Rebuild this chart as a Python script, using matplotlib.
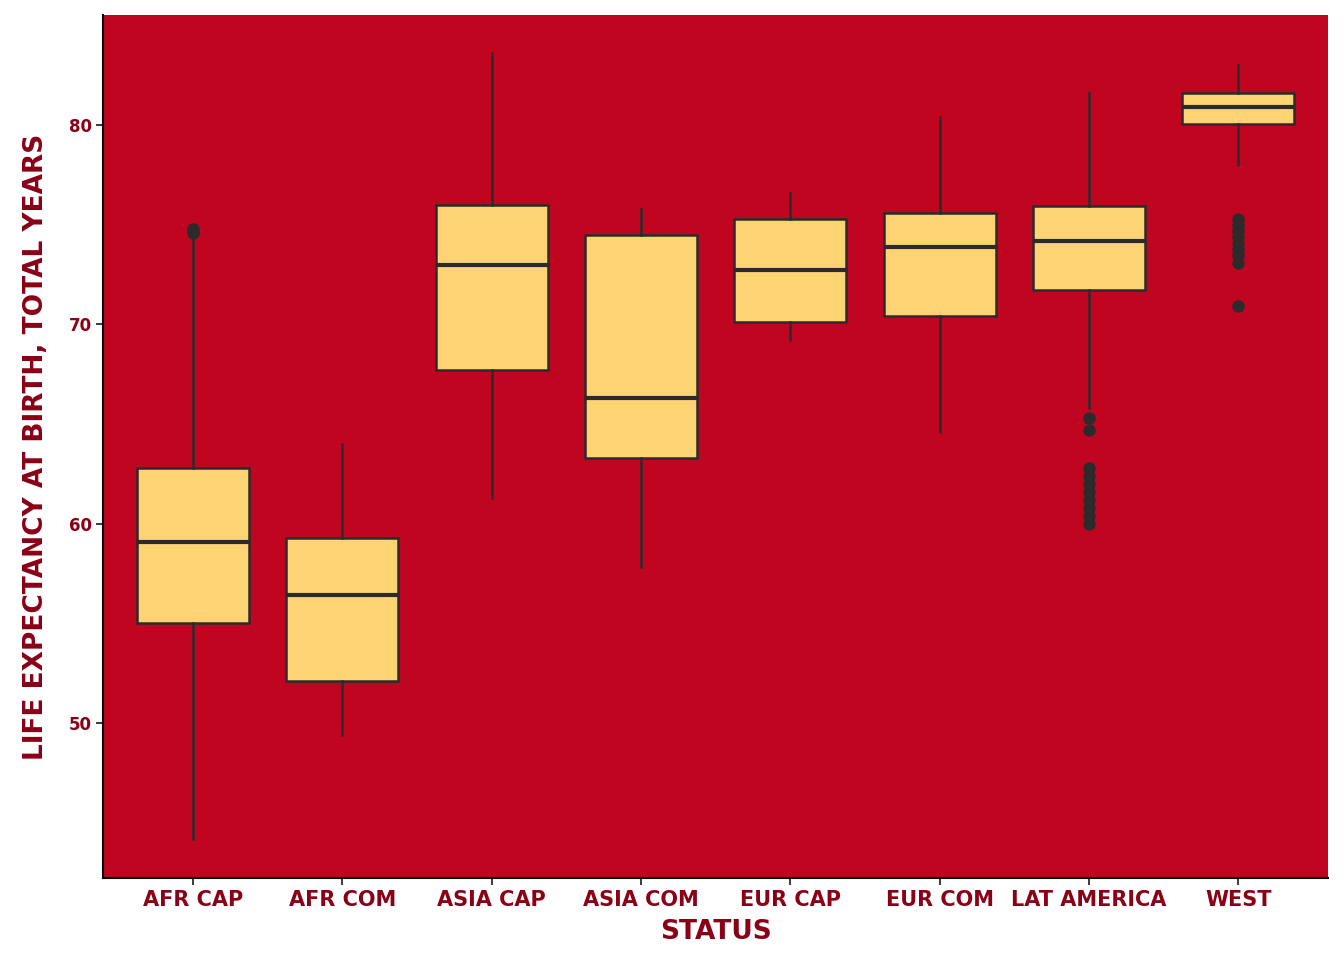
import matplotlib
matplotlib.use('Agg')
import matplotlib.pyplot as plt

# box statistics
categories = ['AFR CAP', 'AFR COM', 'ASIA CAP', 'ASIA COM', 'EUR CAP', 'EUR COM', 'LAT AMERICA', 'WEST']
whislo = [44.2, 49.4, 61.3, 57.8, 69.2, 64.6, 65.8, 78.0]
q1 = [55.0, 52.1, 67.7, 63.3, 70.1, 70.4, 71.7, 80.05]
med = [59.1, 56.4, 73.0, 66.3, 72.7, 73.9, 74.2, 80.9]
q3 = [62.8, 59.3, 76.0, 74.5, 75.3, 75.6, 75.95, 81.6]
whishi = [74.6, 64.0, 83.6, 75.8, 76.6, 80.4, 81.6, 83.0]
fliers = [
    [74.6, 74.7, 74.8],
    [],
    [],
    [],
    [],
    [],
    [65.3, 64.7, 62.8, 62.4, 62.0, 61.6, 61.2, 60.8, 60.4, 60.0],
    [75.3, 75.0, 74.7, 74.4, 74.1, 73.8, 73.5, 73.1, 70.9],
]

red = '#BF0520'
dark = '#8A0016'
fill = '#FDD373'
line = '#2B2B2B'

stats = []
for i, c in enumerate(categories):
    stats.append(dict(label=c, whislo=whislo[i], q1=q1[i], med=med[i],
                      q3=q3[i], whishi=whishi[i], fliers=fliers[i]))

fig, ax = plt.subplots(figsize=(13.44, 9.6), dpi=100)
fig.subplots_adjust(left=0.077, right=0.988, top=0.984, bottom=0.085)
ax.set_facecolor(red)

ax.bxp(stats, widths=0.75, patch_artist=True, showcaps=False,
       boxprops=dict(facecolor=fill, edgecolor=line, linewidth=1.8),
       medianprops=dict(color=line, linewidth=3),
       whiskerprops=dict(color=line, linewidth=1.8),
       flierprops=dict(marker='o', markerfacecolor=line, markeredgecolor=line, markersize=8))

ax.set_xlim(0.4, 8.6)
ax.set_ylim(42.2, 85.5)
ax.set_yticks([50, 60, 70, 80])

for s in ['top', 'right']:
    ax.spines[s].set_visible(False)
for s in ['left', 'bottom']:
    ax.spines[s].set_color('black')
    ax.spines[s].set_linewidth(1.5)

ax.tick_params(axis='x', colors=line, labelcolor=dark, labelsize=15, length=5, width=1.3)
ax.tick_params(axis='y', colors=line, labelcolor=dark, labelsize=12, length=5, width=1.3)
for t in ax.get_xticklabels() + ax.get_yticklabels():
    t.set_fontweight('bold')

ax.set_xlabel('STATUS', color=dark, fontsize=19, fontweight='bold', labelpad=6)
ax.set_ylabel('LIFE EXPECTANCY AT BIRTH, TOTAL YEARS', color=dark, fontsize=19,
              fontweight='bold', labelpad=14)

fig.savefig('out.png', dpi=100)
